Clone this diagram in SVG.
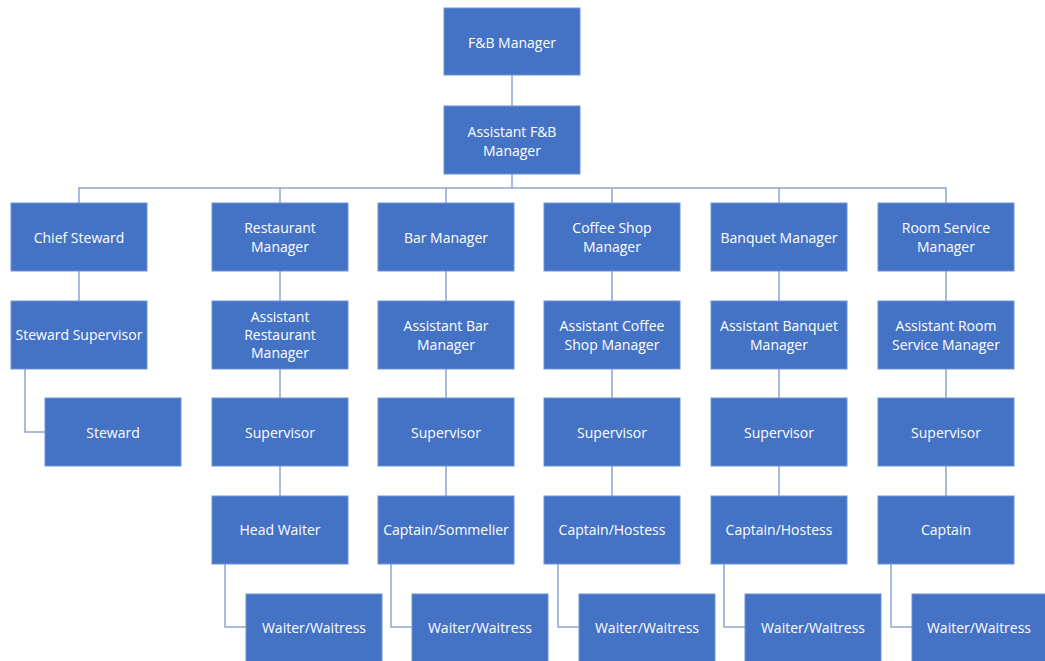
<svg xmlns="http://www.w3.org/2000/svg" width="1045" height="661" viewBox="0 0 1045 661">
<style>
.n rect{fill:#4472C4;stroke:#6E93D6;stroke-width:1}
.n text{fill:#FFFFFF;font-family:"Open Sans","Noto Sans",sans-serif;font-size:14px;text-anchor:middle;dominant-baseline:central}
#connectors path{fill:none;stroke:#8EA5CF;stroke-width:1.5}
</style>
<rect width="1045" height="661" fill="#FFFFFF"/>
<g id="connectors">
<path d="M512 75V106"/>
<path d="M512 174V188"/>
<path d="M79 203V188H946V203"/>
<path d="M280 188V203M446 188V203M612 188V203M779 188V203"/>
<path d="M79 271V301"/>
<path d="M25 369V432H45"/>
<path d="M280 271V496"/>
<path d="M225 564V627H246"/>
<path d="M446 271V496"/>
<path d="M391 564V627H412"/>
<path d="M612 271V496"/>
<path d="M558 564V627H579"/>
<path d="M779 271V496"/>
<path d="M724 564V627H745"/>
<path d="M946 271V496"/>
<path d="M891 564V627H912"/>
</g>
<g id="fb-manager" class="n"><rect x="444" y="8" width="136" height="67"/><text x="512" y="42">F&amp;B Manager</text></g>
<g id="asst-fb-manager" class="n"><rect x="444" y="106" width="136" height="68"/><text x="512" y="131">Assistant F&amp;B</text><text x="512" y="150">Manager</text></g>

<g id="chief-steward" class="n"><rect x="11" y="203" width="136" height="68"/><text x="79" y="237">Chief Steward</text></g>
<g id="steward-supervisor" class="n"><rect x="11" y="301" width="136" height="68"/><text x="79" y="334">Steward Supervisor</text></g>
<g id="steward" class="n"><rect x="45" y="398" width="136" height="68"/><text x="113" y="432">Steward</text></g>

<g id="restaurant-manager" class="n"><rect x="212" y="203" width="136" height="68"/><text x="280" y="227">Restaurant</text><text x="280" y="246">Manager</text></g>
<g id="asst-restaurant-manager" class="n"><rect x="212" y="301" width="136" height="68"/><text x="280" y="316">Assistant</text><text x="280" y="334">Restaurant</text><text x="280" y="352">Manager</text></g>
<g id="restaurant-supervisor" class="n"><rect x="212" y="398" width="136" height="68"/><text x="280" y="432">Supervisor</text></g>
<g id="head-waiter" class="n"><rect x="212" y="496" width="136" height="68"/><text x="280" y="529">Head Waiter</text></g>
<g id="restaurant-waiter" class="n"><rect x="246" y="594" width="136" height="68"/><text x="314" y="627">Waiter/Waitress</text></g>

<g id="bar-manager" class="n"><rect x="378" y="203" width="136" height="68"/><text x="446" y="237">Bar Manager</text></g>
<g id="asst-bar-manager" class="n"><rect x="378" y="301" width="136" height="68"/><text x="446" y="325">Assistant Bar</text><text x="446" y="344">Manager</text></g>
<g id="bar-supervisor" class="n"><rect x="378" y="398" width="136" height="68"/><text x="446" y="432">Supervisor</text></g>
<g id="bar-captain" class="n"><rect x="378" y="496" width="136" height="68"/><text x="446" y="529">Captain/Sommelier</text></g>
<g id="bar-waiter" class="n"><rect x="412" y="594" width="136" height="68"/><text x="480" y="627">Waiter/Waitress</text></g>

<g id="coffee-manager" class="n"><rect x="544" y="203" width="136" height="68"/><text x="612" y="227">Coffee Shop</text><text x="612" y="246">Manager</text></g>
<g id="asst-coffee-manager" class="n"><rect x="544" y="301" width="136" height="68"/><text x="612" y="325">Assistant Coffee</text><text x="612" y="344">Shop Manager</text></g>
<g id="coffee-supervisor" class="n"><rect x="544" y="398" width="136" height="68"/><text x="612" y="432">Supervisor</text></g>
<g id="coffee-captain" class="n"><rect x="544" y="496" width="136" height="68"/><text x="612" y="529">Captain/Hostess</text></g>
<g id="coffee-waiter" class="n"><rect x="579" y="594" width="136" height="68"/><text x="647" y="627">Waiter/Waitress</text></g>

<g id="banquet-manager" class="n"><rect x="711" y="203" width="136" height="68"/><text x="779" y="237">Banquet Manager</text></g>
<g id="asst-banquet-manager" class="n"><rect x="711" y="301" width="136" height="68"/><text x="779" y="325">Assistant Banquet</text><text x="779" y="344">Manager</text></g>
<g id="banquet-supervisor" class="n"><rect x="711" y="398" width="136" height="68"/><text x="779" y="432">Supervisor</text></g>
<g id="banquet-captain" class="n"><rect x="711" y="496" width="136" height="68"/><text x="779" y="529">Captain/Hostess</text></g>
<g id="banquet-waiter" class="n"><rect x="745" y="594" width="136" height="68"/><text x="813" y="627">Waiter/Waitress</text></g>

<g id="room-service-manager" class="n"><rect x="878" y="203" width="136" height="68"/><text x="946" y="227">Room Service</text><text x="946" y="246">Manager</text></g>
<g id="asst-room-service-manager" class="n"><rect x="878" y="301" width="136" height="68"/><text x="946" y="325">Assistant Room</text><text x="946" y="344">Service Manager</text></g>
<g id="room-service-supervisor" class="n"><rect x="878" y="398" width="136" height="68"/><text x="946" y="432">Supervisor</text></g>
<g id="room-service-captain" class="n"><rect x="878" y="496" width="136" height="68"/><text x="946" y="529">Captain</text></g>
<g id="room-service-waiter" class="n"><rect x="912" y="594" width="136" height="68"/><text x="979" y="627">Waiter/Waitress</text></g>
</svg>
